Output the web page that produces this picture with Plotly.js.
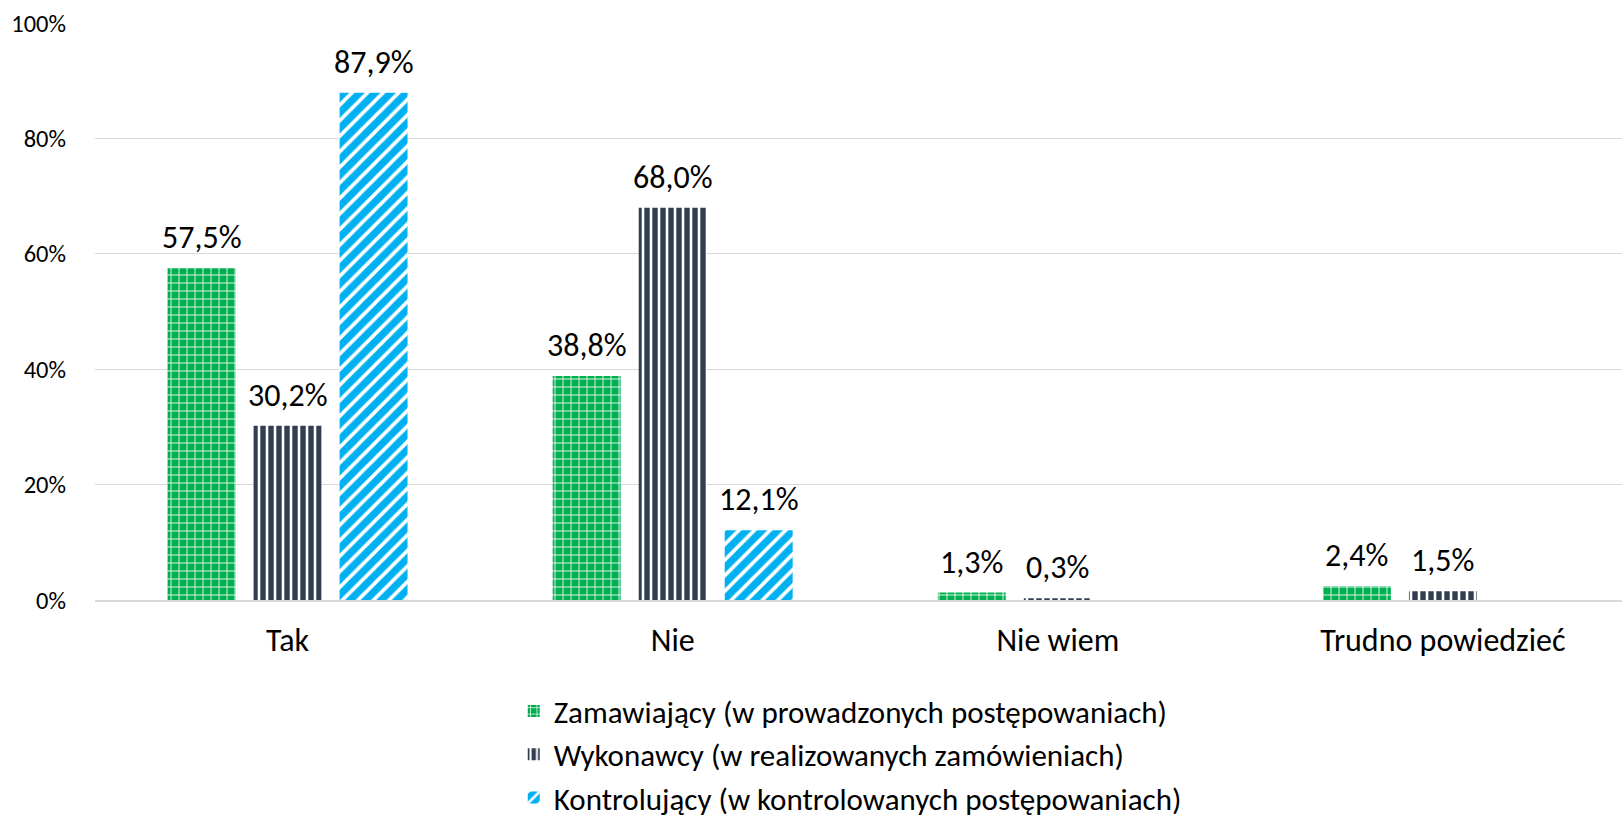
<!DOCTYPE html>
<html>
<head>
<meta charset="utf-8">
<script src="https://cdn.plot.ly/plotly-3.0.1.min.js"></script>
<style>html,body{margin:0;padding:0;background:#fff;}#chart{width:1624px;height:817px;}</style>
</head>
<body>
<div id="chart"></div>
<script>
const categories = ['Tak', 'Nie', 'Nie wiem', 'Trudno powiedzieć'];
const seriesNames = [
  'Zamawiający (w prowadzonych postępowaniach)',
  'Wykonawcy (w realizowanych zamówieniach)',
  'Kontrolujący (w kontrolowanych postępowaniach)'
];
const zamawiajacy = [57.5, 38.8, 1.3, 2.4];
const wykonawcy = [30.2, 68.0, 0.3, 1.5];
const kontrolujacy = [87.9, 12.1, null, null];
const yTicks = [0, 20, 40, 60, 80, 100];

const W = 1624, H = 817;
const margin = {l: 95, r: 2, t: 23, b: 217, autoexpand: false};
const bargap = 0.33, bargroupgap = 0.21;
const FONT = 'Carlito, Calibri, Lato, sans-serif';
const xRange = [-0.5, 3.465];

const seriesValues = [zamawiajacy, wykonawcy, kontrolujacy];
const patterns = [
  {shape: '+', bgcolor: '#00B050', fgcolor: '#ffffff', size: 8, solidity: 0.2, fillmode: 'replace'},
  {shape: '|', bgcolor: '#333F50', fgcolor: '#ffffff', size: 8, solidity: 0.32, fillmode: 'replace'},
  {shape: '/', bgcolor: '#00B0F0', fgcolor: '#ffffff', size: 11, solidity: 0.33, fillmode: 'replace'}
];
const colors = ['#00B050', '#333F50', '#00B0F0'];

const traces = seriesValues.map((vals, i) => ({
  type: 'bar',
  name: seriesNames[i],
  x: categories,
  y: vals,
  marker: {color: colors[i], pattern: patterns[i], line: {width: 0}},
  hoverinfo: 'none'
}));

const plotW = W - margin.l - margin.r;
const catPx = plotW / (xRange[1] - xRange[0]);
const slot = catPx * (1 - bargap) / seriesValues.length;
const annotations = [];
seriesValues.forEach((vals, i) => {
  vals.forEach((v, j) => {
    if (v === null) return;
    annotations.push({
      x: categories[j], y: v, xref: 'x', yref: 'y',
      text: v.toFixed(1).replace('.', ',') + '%',
      showarrow: false, yanchor: 'bottom', xanchor: 'center',
      xshift: (i - (seriesValues.length - 1) / 2) * slot,
      yshift: 9,
      font: {family: FONT, size: 32, color: '#000000'}
    });
  });
});

const layout = {
  width: W, height: H,
  margin: margin,
  paper_bgcolor: '#ffffff', plot_bgcolor: '#ffffff',
  barmode: 'group', bargap: bargap, bargroupgap: bargroupgap,
  font: {family: FONT, color: '#000000'},
  xaxis: {
    type: 'category', range: xRange,
    showgrid: false, showline: true, linecolor: '#d9d9d9', linewidth: 2,
    ticks: '', ticklabelstandoff: 11,
    tickfont: {family: FONT, size: 32, color: '#000000'}
  },
  yaxis: {
    range: [0, 100], tickvals: yTicks, ticktext: yTicks.map(t => t + '%'),
    showgrid: true, gridcolor: '#d9d9d9', gridwidth: 1,
    zeroline: false, showline: false, ticks: '',
    ticklabelstandoff: 28,
    tickfont: {family: FONT, size: 24.5, color: '#000000'}
  },
  showlegend: true,
  legend: {
    orientation: 'v', x: 0.4946, xanchor: 'center', y: -0.146, yanchor: 'top',
    traceorder: 'normal', maxheight: 300, borderwidth: 0,
    font: {family: FONT, size: 31, color: '#000000'}
  },
  annotations: annotations
};

Plotly.newPlot('chart', traces, layout, {displayModeBar: false, staticPlot: true});
</script>
</body>
</html>
